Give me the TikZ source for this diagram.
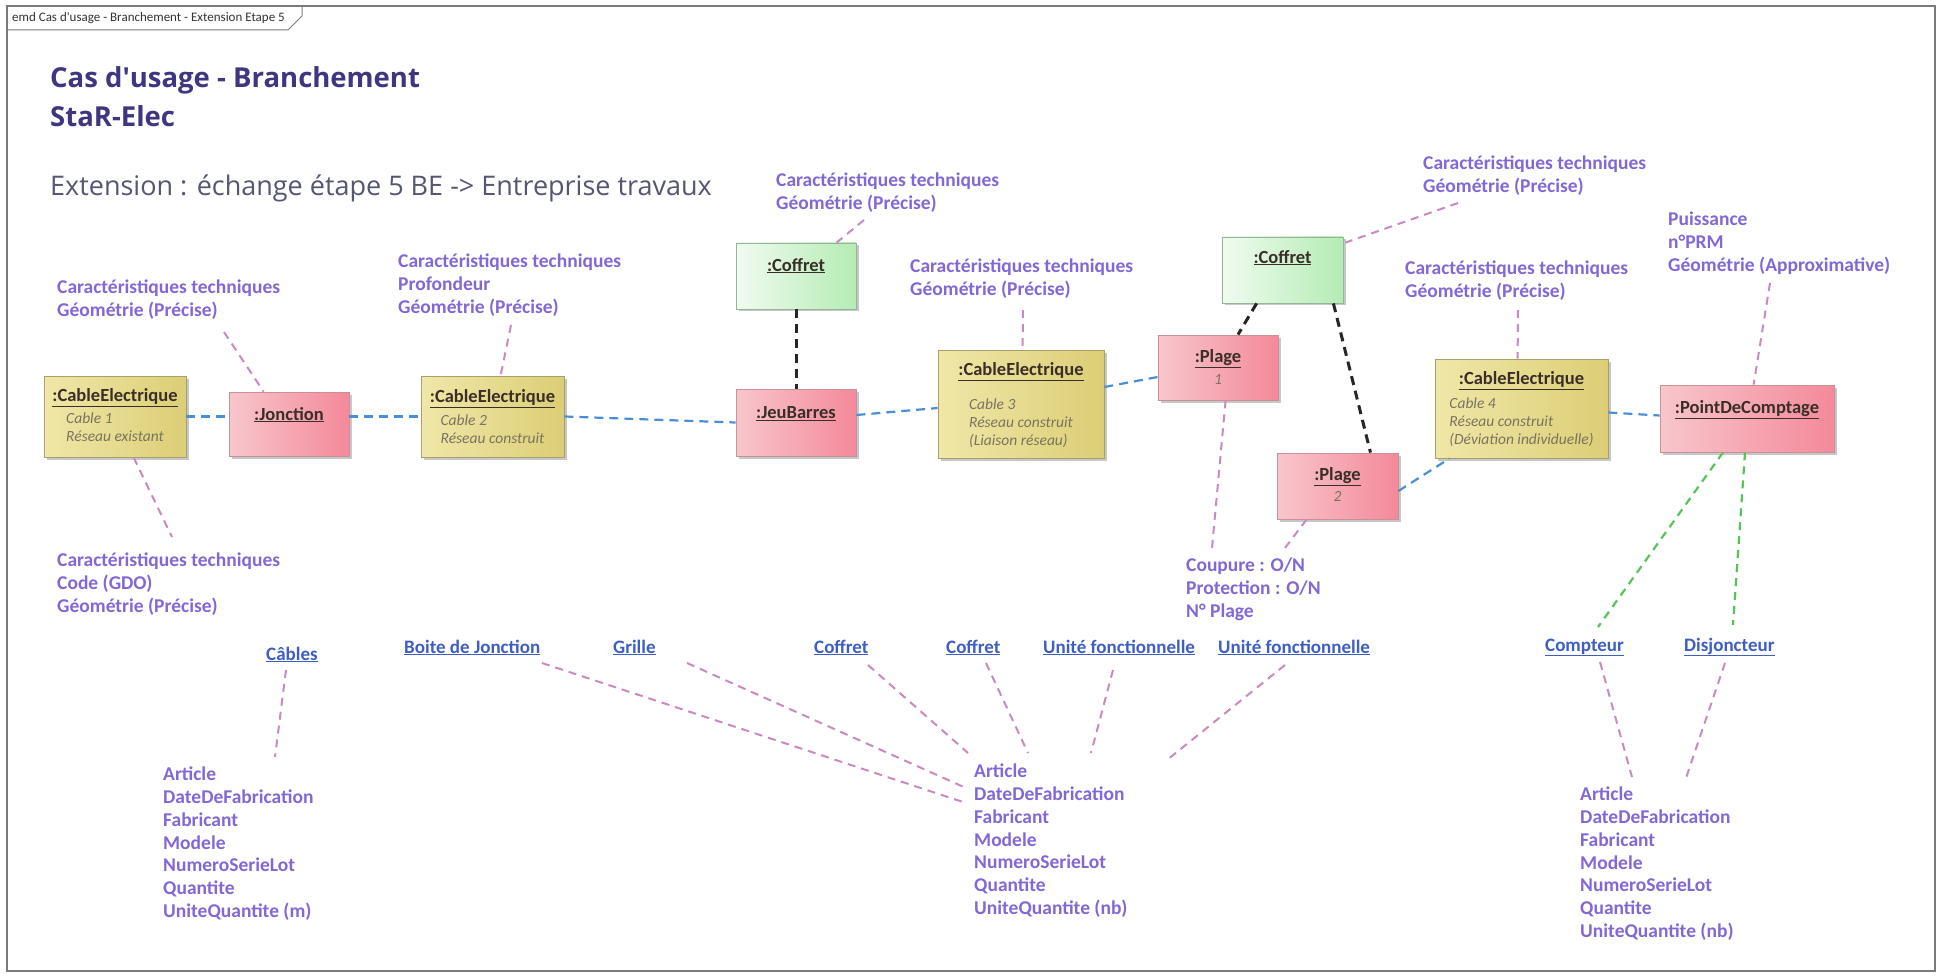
\documentclass[tikz,border=0pt]{standalone}
\usepackage{fontspec}
\setmainfont{Carlito}
\newfontfamily\titlefont{Open Sans}
\usetikzlibrary{shadows,calc}

\definecolor{yelL}{HTML}{F0E7A8}
\definecolor{yelR}{HTML}{DCCE76}
\definecolor{yelB}{HTML}{A89F6A}
\definecolor{pinkL}{HTML}{F8C6CC}
\definecolor{pinkR}{HTML}{F4899A}
\definecolor{pinkB}{HTML}{C99098}
\definecolor{grnL}{HTML}{F0FBF0}
\definecolor{grnR}{HTML}{B4ECB4}
\definecolor{grnB}{HTML}{98B498}
\definecolor{notec}{HTML}{8467D6}
\definecolor{linkc}{HTML}{C98BBE}
\definecolor{bluec}{HTML}{4A8FD6}
\definecolor{greenc}{HTML}{58C458}
\definecolor{hlc}{HTML}{3E5EC4}
\definecolor{titlec}{HTML}{3E3680}
\definecolor{subc}{HTML}{555575}
\definecolor{objc}{HTML}{3A2E28}
\definecolor{itc}{HTML}{7A745E}
\definecolor{framec}{HTML}{7A7A7A}

\tikzset{
  obj/.style={draw, line width=0.8pt, inner sep=0pt,
    drop shadow={shadow xshift=2.5pt, shadow yshift=-2.5pt, fill=black, opacity=0.22}},
  yel/.style={obj, draw=yelB, left color=yelL, right color=yelR},
  pnk/.style={obj, draw=pinkB, left color=pinkL, right color=pinkR},
  grn/.style={obj, draw=grnB, left color=grnL, right color=grnR},
  objname/.style={inner sep=0pt, text=objc, font=\bfseries\fontsize{18.5}{22}\selectfont},
  objit/.style={inner sep=0pt, anchor=north, align=left, text=itc, font=\itshape\fontsize{15.5}{18}\selectfont},
  objnum/.style={inner sep=0pt, text=itc, font=\itshape\fontsize{15.5}{18}\selectfont},
  note/.style={anchor=north west, inner sep=0pt, align=left, text=notec, font=\bfseries\fontsize{19.5}{22.7}\selectfont},
  hl/.style={anchor=base west, inner sep=0pt, text=hlc, font=\bfseries\fontsize{19}{22}\selectfont},
  bluelink/.style={draw=bluec, line width=2.2pt, dash pattern=on 9pt off 6pt},
  blacklink/.style={draw=black!85, line width=3pt, dash pattern=on 9pt off 6pt},
  greenlink/.style={draw=greenc, line width=2.2pt, dash pattern=on 8pt off 6pt},
  notelink/.style={draw=linkc, line width=2pt, dash pattern=on 8pt off 6pt},
}

\begin{document}
\begin{tikzpicture}[x=1pt,y=-1pt]
\useasboundingbox (0,0) rectangle (1941,976);
\fill[white] (0,0) rectangle (1941,976);

% frame
\draw[framec, line width=1.5pt] (7,6) rectangle (1935,971);
\draw[framec, line width=1pt] (7,30) -- (288,30) -- (302,16) -- (302,6);
\node[anchor=west, inner sep=0pt, text=black!80, font=\fontsize{13}{15}\selectfont] (tab) at (12,18) {emd Cas d\textquotesingle usage - Branchement - Extension Etape 5};

% titles
\node[anchor=base west, inner sep=0pt, text=titlec, font=\titlefont\bfseries\fontsize{27.5}{32}\selectfont] (title1) at (50,88) {Cas d\textquotesingle usage - Branchement};
\node[anchor=base west, inner sep=0pt, text=titlec, font=\titlefont\bfseries\fontsize{27.5}{32}\selectfont] (title2) at (50,127) {StaR-Elec};
\node[anchor=base west, inner sep=0pt, text=subc, font=\titlefont\fontsize{27}{32}\selectfont] (sub) at (50,196) {Extension : échange étape 5 BE -> Entreprise travaux};

% boxes
\node[yel, minimum width=142pt, minimum height=81pt] (c1) at (115,416.5) {};
\node[pnk, minimum width=120pt, minimum height=64pt] (jonc) at (289,424) {};
\node[yel, minimum width=143pt, minimum height=81pt] (c2) at (492.5,416.5) {};
\node[grn, minimum width=120pt, minimum height=66pt] (cof1) at (796,276) {};
\node[pnk, minimum width=120pt, minimum height=67pt] (jb) at (796,422.5) {};
\node[yel, minimum width=166pt, minimum height=108pt] (c3) at (1021,404) {};
\node[grn, minimum width=121pt, minimum height=66pt] (cof2) at (1282.5,270) {};
\node[pnk, minimum width=120pt, minimum height=65pt] (p1) at (1218,367.5) {};
\node[pnk, minimum width=121pt, minimum height=66pt] (p2) at (1337.5,486) {};
\node[yel, minimum width=173pt, minimum height=99pt] (c4) at (1521.5,408.5) {};
\node[pnk, minimum width=174pt, minimum height=67pt] (pdc) at (1747,418.5) {};

% box texts
\node[objname] (c1t) at ([yshift=-22pt]c1.north) {\underline{:CableElectrique}};
\node[objit] (c1i) at ([yshift=-37pt]c1.north) {Cable 1\\Réseau existant};
\node[objname] (jonct) at ([yshift=-23pt]jonc.north) {\underline{:Jonction}};
\node[objname] (c2t) at ([yshift=-23pt]c2.north) {\underline{:CableElectrique}};
\node[objit] (c2i) at ([yshift=-39pt]c2.north) {Cable 2\\Réseau construit};
\node[objname] (cof1t) at ([yshift=-23pt]cof1.north) {\underline{:Coffret}};
\node[objname] (jbt) at ([yshift=-25pt]jb.north) {\underline{:JeuBarres}};
\node[objname] (c3t) at ([yshift=-22pt]c3.north) {\underline{:CableElectrique}};
\node[objit] (c3i) at ([yshift=-49pt]c3.north) {Cable 3\\Réseau construit\\(Liaison réseau)};
\node[objname] (cof2t) at ([yshift=-21pt]cof2.north) {\underline{:Coffret}};
\node[objname] (p1t) at ([yshift=-24pt]p1.north) {\underline{:Plage}};
\node[objnum] (p1n) at ([yshift=-45pt]p1.north) {1};
\node[objname] (p2t) at ([yshift=-24pt]p2.north) {\underline{:Plage}};
\node[objnum] (p2n) at ([yshift=-44pt]p2.north) {2};
\node[objname] (c4t) at ([yshift=-22pt]c4.north) {\underline{:CableElectrique}};
\node[objit] (c4i) at ([yshift=-39pt]c4.north) {Cable 4\\Réseau construit\\(Déviation individuelle)};
\node[objname] (pdct) at ([yshift=-25pt]pdc.north) {\underline{:PointDeComptage}};

% notes
\node[note] (nA) at (57,280) {Caractéristiques techniques\\Géométrie (Précise)};
\node[note] (nB) at (57,553) {Caractéristiques techniques\\Code (GDO)\\Géométrie (Précise)};
\node[note] (nC) at (398,254) {Caractéristiques techniques\\Profondeur\\Géométrie (Précise)};
\node[note] (nD) at (776,173) {Caractéristiques techniques\\Géométrie (Précise)};
\node[note] (nE) at (910,259) {Caractéristiques techniques\\Géométrie (Précise)};
\node[note] (nF) at (1423,156) {Caractéristiques techniques\\Géométrie (Précise)};
\node[note] (nG) at (1405,261) {Caractéristiques techniques\\Géométrie (Précise)};
\node[note] (nH) at (1668,212) {Puissance\\n°PRM\\Géométrie (Approximative)};
\node[note] (nCoup) at (1186,558) {Coupure : O/N\\Protection : O/N\\N° Plage};
\node[note] (L1) at (163,767) {Article\\DateDeFabrication\\Fabricant\\Modele\\NumeroSerieLot\\Quantite\\UniteQuantite (m)};
\node[note] (L2) at (974,764) {Article\\DateDeFabrication\\Fabricant\\Modele\\NumeroSerieLot\\Quantite\\UniteQuantite (nb)};
\node[note] (L3) at (1580,787) {Article\\DateDeFabrication\\Fabricant\\Modele\\NumeroSerieLot\\Quantite\\UniteQuantite (nb)};

% hyperlinks
\node[hl] (hCables) at (266,660) {\underline{Câbles}};
\node[hl] (hBoite) at (404,653) {\underline{Boite de Jonction}};
\node[hl] (hGrille) at (613,653) {\underline{Grille}};
\node[hl] (hCofA) at (814,653) {\underline{Coffret}};
\node[hl] (hCofB) at (946,653) {\underline{Coffret}};
\node[hl] (hUfA) at (1043,653) {\underline{Unité fonctionnelle}};
\node[hl] (hUfB) at (1218,653) {\underline{Unité fonctionnelle}};
\node[hl] (hCompt) at (1545,651) {\underline{Compteur}};
\node[hl] (hDisj) at (1684,651) {\underline{Disjoncteur}};

% blue links
\draw[bluelink] (c1.east) -- (c1.east -| jonc.west);
\draw[bluelink] (jonc.east |- c2.west) -- (c2.west);
\draw[bluelink] (c2.east) -- (jb.west);
\draw[bluelink] ([yshift=7.5pt]jb.east) -- ([yshift=-4pt]c3.west);
\draw[bluelink] ([yshift=17pt]c3.east) -- ([yshift=-9.5pt]p1.west);
\draw[bluelink] ([yshift=-5pt]p2.east) -- ([xshift=15pt]c4.south west);
\draw[bluelink] ([yshift=-4pt]c4.east) -- ([yshift=3pt]pdc.west);

% black links
\draw[blacklink] (cof1.south) -- (jb.north);
\draw[blacklink] ([xshift=35pt]cof2.south west) -- ([xshift=20pt]p1.north);
\draw[blacklink] ([xshift=-10pt]cof2.south east) -- ([xshift=33pt]p2.north);

% green links
\draw[greenlink] ([xshift=-24pt]pdc.south) -- ([shift={(53,-24)}]hCompt.base west);
\draw[greenlink] ([xshift=-2pt]pdc.south) -- ([shift={(49,-26)}]hDisj.base west);

% note links
\draw[notelink] ([shift={(167,52)}]nA.north west) -- ([xshift=35pt]jonc.north west);
\draw[notelink] ([xshift=90pt]c1.south west) -- ([shift={(115,-16)}]nB.north west);
\draw[notelink] ([shift={(113,71)}]nC.north west) -- ([xshift=80pt]c2.north west);
\draw[notelink] ([shift={(88,47)}]nD.north west) -- ([xshift=101pt]cof1.north west);
\draw[notelink] ([shift={(113,51)}]nE.north west) -- ([xshift=85pt]c3.north west);
\draw[notelink] ([shift={(35,47)}]nF.north west) -- ([shift={(2,6)}]cof2.north east);
\draw[notelink] ([shift={(113,49)}]nG.north west) -- ([xshift=83pt]c4.north west);
\draw[notelink] ([shift={(102,71)}]nH.north west) -- ([xshift=94pt]pdc.north west);
\draw[notelink] ([xshift=68pt]p1.south west) -- ([shift={(26,-10)}]nCoup.north west);
\draw[notelink] ([xshift=30pt]p2.south west) -- ([shift={(99,-10)}]nCoup.north west);
\draw[notelink] ([shift={(20,10)}]hCables.base west) -- ([shift={(112,-10)}]L1.north west);
\draw[notelink] ([shift={(138,10)}]hBoite.base west) -- ([shift={(-8,39)}]L2.north west);
\draw[notelink] ([shift={(74,10)}]hGrille.base west) -- ([shift={(-8,24)}]L2.north west);
\draw[notelink] ([shift={(54,12)}]hCofA.base west) -- ([shift={(-6,-11)}]L2.north west);
\draw[notelink] ([shift={(40,10)}]hCofB.base west) -- ([shift={(54,-11)}]L2.north west);
\draw[notelink] ([shift={(70,17)}]hUfA.base west) -- ([shift={(117,-11)}]L2.north west);
\draw[notelink] ([shift={(67,12)}]hUfB.base west) -- ([shift={(193,-4)}]L2.north west);
\draw[notelink] ([shift={(55,11)}]hCompt.base west) -- ([shift={(52,-10)}]L3.north west);
\draw[notelink] ([shift={(41,12)}]hDisj.base west) -- ([shift={(106,-9)}]L3.north west);
\end{tikzpicture}
\end{document}
